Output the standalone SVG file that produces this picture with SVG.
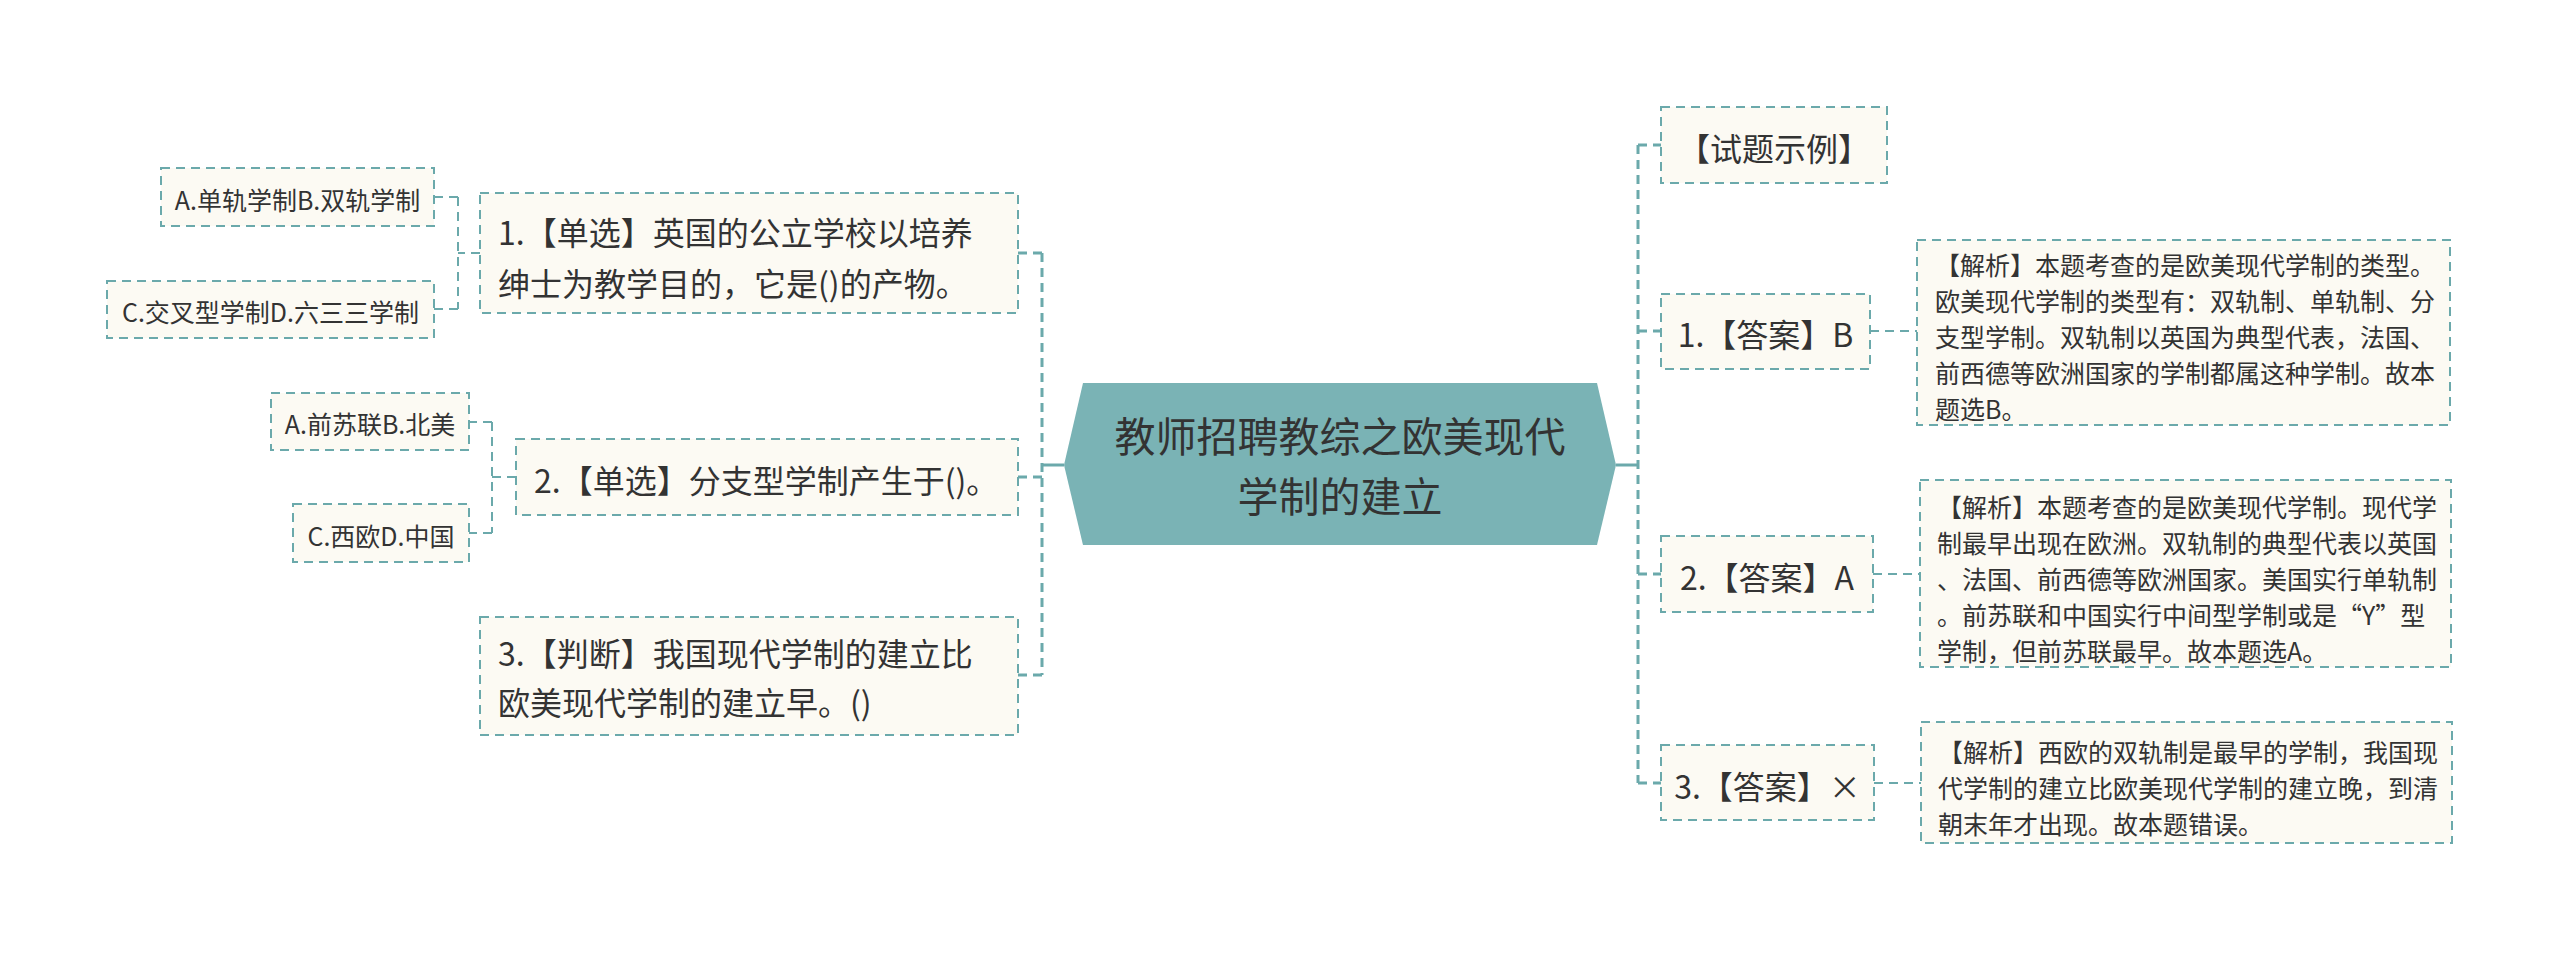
<svg xmlns="http://www.w3.org/2000/svg" width="2560" height="953" viewBox="0 0 2560 953">
<style>
text{font-family:"Noto Sans CJK SC","Noto Sans",sans-serif;fill:#333333;dominant-baseline:central}
.box{fill:#fcfaf3;stroke:#6ba9ab;stroke-width:2;stroke-dasharray:9 6}
.main{font-size:32px}
.sub{font-size:25px}
.det{font-size:25px}
.root{font-size:41px;text-anchor:middle}
.mid{text-anchor:middle}
.c{fill:none;stroke:#6ba9ab;stroke-dasharray:9 6}
.c3{stroke-width:3}
.c2{stroke-width:2}
.solid{fill:none;stroke:#6ba9ab;stroke-width:3}
</style>
<rect width="2560" height="953" fill="#ffffff"/>
<g id="connectors">
<path class="solid" d="M1064 465H1042"/>
<path class="c c3" d="M1042 253V675"/>
<path class="c c3" d="M1042 253H1018M1042 477H1018M1042 675H1018"/>
<path class="c c2" d="M458 197V309M480 253H458M458 197H434M458 309H434"/>
<path class="c c2" d="M492 422V533M516 477H492M492 422H469M492 533H469"/>
<path class="solid" d="M1616 465H1638"/>
<path class="c c3" d="M1638 145V783"/>
<path class="c c3" d="M1638 145H1661M1638 331H1661M1638 574H1661M1638 783H1661"/>
<path class="c c2" d="M1870 331H1917M1873 574H1920M1874 783H1921"/>
</g>
<g id="root">
<polygon points="1064,465 1083,383 1597,383 1616,465 1597,545 1083,545" fill="#7ab3b5"/>
<text class="root"><tspan x="1340" y="434">教师招聘教综之欧美现代</tspan><tspan x="1340" y="494">学制的建立</tspan></text>
</g>
<g id="q1">
<rect class="box" x="480" y="193" width="538" height="120"/>
<text class="main"><tspan x="498" y="231">1.【单选】英国的公立学校以培养</tspan><tspan x="498" y="282">绅士为教学目的，它是()的产物。</tspan></text>
</g>
<g id="q1a">
<rect class="box" x="161" y="168" width="273" height="58"/>
<text class="sub mid" x="297.5" y="199">A.单轨学制B.双轨学制</text>
</g>
<g id="q1b">
<rect class="box" x="107" y="281" width="327" height="57"/>
<text class="sub mid" x="270.5" y="311">C.交叉型学制D.六三三学制</text>
</g>
<g id="q2">
<rect class="box" x="516" y="439" width="502" height="76"/>
<text class="main" x="534" y="479">2.【单选】分支型学制产生于()。</text>
</g>
<g id="q2a">
<rect class="box" x="271" y="393" width="198" height="57"/>
<text class="sub mid" x="370" y="423">A.前苏联B.北美</text>
</g>
<g id="q2b">
<rect class="box" x="293" y="504" width="176" height="58"/>
<text class="sub mid" x="381" y="535">C.西欧D.中国</text>
</g>
<g id="q3">
<rect class="box" x="480" y="617" width="538" height="118"/>
<text class="main"><tspan x="498" y="652">3.【判断】我国现代学制的建立比</tspan><tspan x="498" y="701">欧美现代学制的建立早。()</tspan></text>
</g>
<g id="r0">
<rect class="box" x="1661" y="107" width="226" height="76"/>
<text class="main mid" x="1774" y="147">【试题示例】</text>
</g>
<g id="r1">
<rect class="box" x="1661" y="294" width="209" height="75"/>
<text class="main mid" x="1765.5" y="333">1.【答案】B</text>
</g>
<g id="r1d">
<rect class="box" x="1917" y="240" width="533" height="185"/>
<text class="det"><tspan x="1935" y="264">【解析】本题考查的是欧美现代学制的类型。</tspan><tspan x="1935" y="300">欧美现代学制的类型有：双轨制、单轨制、分</tspan><tspan x="1935" y="336">支型学制。双轨制以英国为典型代表，法国、</tspan><tspan x="1935" y="372">前西德等欧洲国家的学制都属这种学制。故本</tspan><tspan x="1935" y="408">题选B。</tspan></text>
</g>
<g id="r2">
<rect class="box" x="1661" y="536" width="212" height="76"/>
<text class="main mid" x="1767" y="576">2.【答案】A</text>
</g>
<g id="r2d">
<rect class="box" x="1920" y="480" width="531" height="187"/>
<text class="det"><tspan x="1937" y="506">【解析】本题考查的是欧美现代学制。现代学</tspan><tspan x="1937" y="542">制最早出现在欧洲。双轨制的典型代表以英国</tspan><tspan x="1937" y="578">、法国、前西德等欧洲国家。美国实行单轨制</tspan><tspan x="1937" y="614">。前苏联和中国实行中间型学制或是“Y”型</tspan><tspan x="1937" y="650">学制，但前苏联最早。故本题选A。</tspan></text>
</g>
<g id="r3">
<rect class="box" x="1661" y="745" width="213" height="75"/>
<text class="main mid" x="1767.5" y="785">3.【答案】×</text>
</g>
<g id="r3d">
<rect class="box" x="1921" y="722" width="531" height="121"/>
<text class="det"><tspan x="1938" y="751">【解析】西欧的双轨制是最早的学制，我国现</tspan><tspan x="1938" y="787">代学制的建立比欧美现代学制的建立晚，到清</tspan><tspan x="1938" y="823">朝末年才出现。故本题错误。</tspan></text>
</g>
</svg>
